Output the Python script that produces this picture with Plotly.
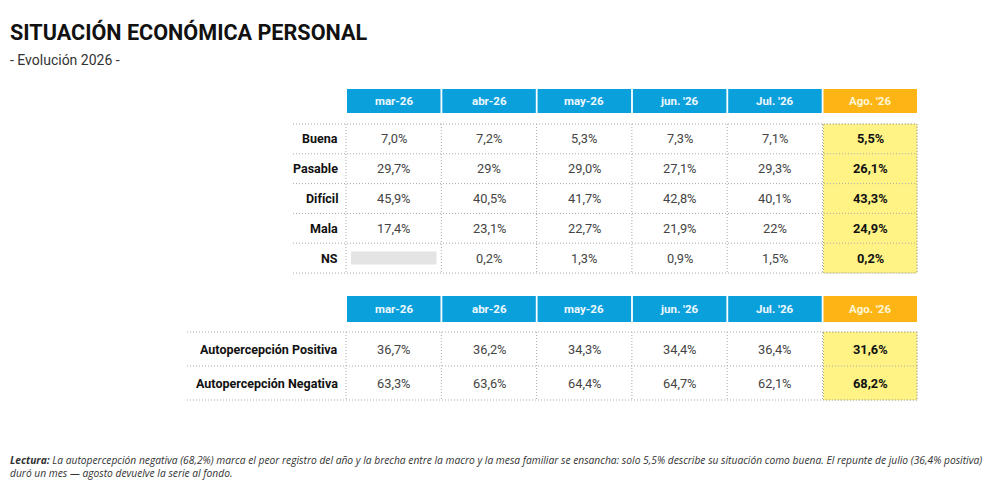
import plotly.graph_objects as go

# --- data ---
months = ["mar-26", "abr-26", "may-26", "jun. '26", "Jul. '26", "Ago. '26"]

rows_top = ["Buena", "Pasable", "Difícil", "Mala", "NS"]
buena = ["7,0%", "7,2%", "5,3%", "7,3%", "7,1%", "5,5%"]
pasable = ["29,7%", "29%", "29,0%", "27,1%", "29,3%", "26,1%"]
dificil = ["45,9%", "40,5%", "41,7%", "42,8%", "40,1%", "43,3%"]
mala = ["17,4%", "23,1%", "22,7%", "21,9%", "22%", "24,9%"]
ns = [None, "0,2%", "1,3%", "0,9%", "1,5%", "0,2%"]

rows_bottom = ["Autopercepción Positiva", "Autopercepción Negativa"]
positiva = ["36,7%", "36,2%", "34,3%", "34,4%", "36,4%", "31,6%"]
negativa = ["63,3%", "63,6%", "64,4%", "64,7%", "62,1%", "68,2%"]

title = "SITUACIÓN ECONÓMICA PERSONAL"
subtitle = "- Evolución 2026 -"
note = ("<b>Lectura:</b> La autopercepción negativa (68,2%) marca el peor registro del año y la brecha "
        "entre la macro y la mesa familiar se ensancha: solo 5,5% describe su situación como buena. "
        "El repunte de julio (36,4% positiva)<br>duró un mes — agosto devuelve la serie al fondo.")

# --- style ---
W, H = 1000, 494
OFF = 8         # page margin, so axis units equal screen pixels
BLUE = "#0aa0dc"
ORANGE = "#fdb515"
YELLOW = "#fff385"
GRID = "#aaaaaa"
DOTS = "1px,2px"
FONT = "Roboto"

COL0 = 347      # left edge of first month column
PITCH = 95.3
CELL_W = 93.5
RIGHT = COL0 + 5 * PITCH + CELL_W

fig = go.Figure()
shapes = []
annotations = []


def col_x(i):
    return COL0 + i * PITCH


def draw_table(row_names, values, head_y0, head_y1, body_top, row_h, left):
    n = len(row_names)
    body_bot = body_top + n * row_h
    last = len(months) - 1
    # header cells
    for i, m in enumerate(months):
        shapes.append(dict(type="rect", xref="x", yref="y",
                           x0=col_x(i), x1=col_x(i) + CELL_W, y0=head_y0, y1=head_y1,
                           fillcolor=ORANGE if i == last else BLUE, line_width=0, layer="below"))
        annotations.append(dict(x=col_x(i) + CELL_W / 2, y=(head_y0 + head_y1) / 2, text=f"<b>{m}</b>",
                                showarrow=False, xref="x", yref="y",
                                font=dict(family=FONT, size=11.5,
                                          color="#fff6d8" if i == last else "#eef8fd")))
    # highlighted last column
    shapes.append(dict(type="rect", xref="x", yref="y",
                       x0=col_x(last), x1=RIGHT, y0=body_top, y1=body_bot,
                       fillcolor=YELLOW, line=dict(color="#b8ad60", width=1, dash=DOTS), layer="below"))
    # horizontal dotted lines
    for r in range(n + 1):
        y = body_top + r * row_h
        shapes.append(dict(type="line", xref="x", yref="y", x0=left, x1=RIGHT, y0=y, y1=y,
                           line=dict(color=GRID, width=1, dash=DOTS)))
    # vertical dotted lines
    for i in range(len(months)):
        x = col_x(i) - 1
        shapes.append(dict(type="line", xref="x", yref="y", x0=x, x1=x, y0=body_top, y1=body_bot,
                           line=dict(color=GRID, width=1, dash=DOTS)))
    shapes.append(dict(type="line", xref="x", yref="y", x0=RIGHT, x1=RIGHT, y0=body_top, y1=body_bot,
                       line=dict(color=GRID, width=1, dash=DOTS)))
    # row labels and cells
    for r, name in enumerate(row_names):
        yc = body_top + (r + 0.5) * row_h
        annotations.append(dict(x=COL0 - 7, y=yc, text=f"<b>{name}</b>", showarrow=False,
                                xref="x", yref="y", xanchor="right",
                                font=dict(family=FONT, size=12.5, color="#111111")))
        for i, v in enumerate(values[r]):
            xc = col_x(i) + CELL_W / 2
            if v is None:
                shapes.append(dict(type="rect", xref="x", yref="y",
                                   x0=col_x(i) + 4, x1=col_x(i) + CELL_W - 4, y0=yc - 6.5, y1=yc + 6.5,
                                   fillcolor="#e4e4e4", line_width=0))
                continue
            txt = f"<b>{v}</b>" if i == last else v
            annotations.append(dict(x=xc, y=yc, text=txt, showarrow=False, xref="x", yref="y",
                                    font=dict(family=FONT, size=12.8,
                                              color="#111111" if i == last else "#444444")))


draw_table(rows_top, [buena, pasable, dificil, mala, ns],
           head_y0=89, head_y1=113, body_top=124, row_h=29.8, left=293)
draw_table(rows_bottom, [positiva, negativa],
           head_y0=296, head_y1=322, body_top=332, row_h=34, left=187)

# titles
TX = OFF + 0.5
annotations.append(dict(x=TX, y=32, text=f"<b>{title}</b>", showarrow=False, xref="x", yref="y",
                        xanchor="left", borderpad=0, font=dict(family=FONT, size=21.6, color="#111111")))
annotations.append(dict(x=TX, y=60, text=subtitle, showarrow=False, xref="x", yref="y",
                        xanchor="left", borderpad=0, font=dict(family=FONT, size=14, color="#333333")))
annotations.append(dict(x=TX, y=466, text=f"<i>{note}</i>", showarrow=False, xref="x", yref="y",
                        xanchor="left", align="left", borderpad=0,
                        font=dict(family="Open Sans", size=10.25, color="#333333")))

fig.update_layout(
    width=W, height=H,
    margin=dict(l=0, r=0, t=0, b=0),
    paper_bgcolor="white", plot_bgcolor="white",
    xaxis=dict(range=[OFF, W + OFF], visible=False, fixedrange=True),
    yaxis=dict(range=[H + OFF, OFF], visible=False, fixedrange=True),
    shapes=shapes, annotations=annotations, showlegend=False,
)
fig.write_html("out.html")
